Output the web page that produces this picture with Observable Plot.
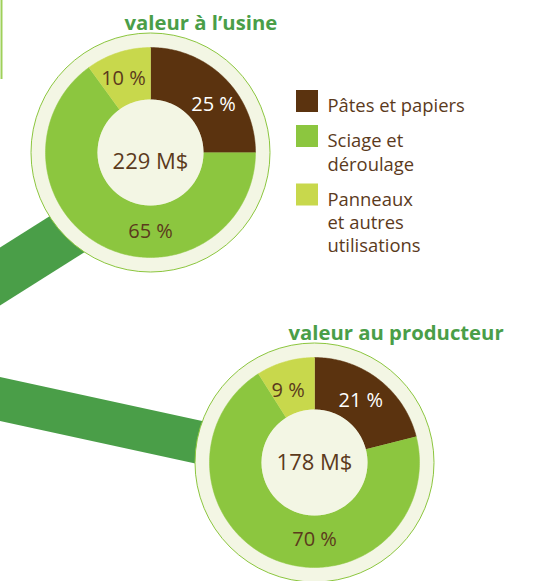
<!DOCTYPE html>
<html>
<head>
<meta charset="utf-8">
<script src="https://cdn.jsdelivr.net/npm/d3@7"></script>
<script src="https://cdn.jsdelivr.net/npm/@observablehq/plot@0.6"></script>
<style>
  html, body { margin: 0; padding: 0; background: #ffffff; overflow: hidden; }
  #chart svg { display: block; overflow: hidden; }
</style>
</head>
<body>
<div id="chart"></div>
<script>
// ---------- data ----------
const categories = ["Pâtes et papiers", "Sciage et déroulage", "Panneaux et autres utilisations"];
const legendLabels = ["Pâtes et papiers", "Sciage et\ndéroulage", "Panneaux\net autres\nutilisations"];
const titles = ["valeur à l’usine", "valeur au producteur"];
const totals = ["229 M$", "178 M$"];
const shareUsine = [25, 65, 10];        // %
const shareProducteur = [21, 70, 9];    // %

// ---------- layout & styles ----------
const W = 538, H = 581;
const colors = ["#5b330f", "#8cc63f", "#c8d84c"];
const labelColors = ["#ffffff", "#5b3a1c", "#5b3a1c"];
const darkGreen = "#4a9e48";
const cream = "#f3f6e4";
const textBrown = "#5b3a1c";
const layout = {
  centers: [[150, 152], [314, 462]],
  ringR: 119.5, outerR: 105, innerR: 53,
  labelR: [79, 77],
  labelAngles: [[53, 180, -20], [37, 180, -20]],
  totalDy: [9, 0],
  titleOffset: [-26, -123],
  bands: [
    {from: [-40, 301], to: [120, 200], width: 49},
    {from: [-40, 390], to: [250, 453], width: 43}
  ],
  legend: {x: 296, y: 90, size: 22, lineH: 23.5, gap: 11.5, textX: 327, textLineH: 23.2, textDy: 5.5, fontSize: 18.4}
};

const series = [shareUsine, shareProducteur];
const rad = d => d * Math.PI / 180;

// arc polygons built from the shares
const arcMarks = [];
series.forEach((vals, ci) => {
  const [cx, cy] = layout.centers[ci];
  let start = 0;
  vals.forEach((v, k) => {
    const a0 = start, a1 = start + v / 100 * 360;
    start = a1;
    const pts = [];
    const n = Math.max(2, Math.ceil(a1 - a0));
    for (let i = 0; i <= n; i++) {
      const a = rad(a0 + (a1 - a0) * i / n);
      pts.push({x: cx + layout.outerR * Math.sin(a), y: cy - layout.outerR * Math.cos(a)});
    }
    for (let i = n; i >= 0; i--) {
      const a = rad(a0 + (a1 - a0) * i / n);
      pts.push({x: cx + layout.innerR * Math.sin(a), y: cy - layout.innerR * Math.cos(a)});
    }
    arcMarks.push(Plot.line(pts, {x: "x", y: "y", fill: colors[k], stroke: colors[k], strokeWidth: 0.5}));
  });
});

// slice labels
const sliceLabels = [];
series.forEach((vals, ci) => {
  const [cx, cy] = layout.centers[ci];
  vals.forEach((v, k) => {
    const a = rad(layout.labelAngles[ci][k]);
    const r = layout.labelR[ci];
    sliceLabels.push({x: cx + r * Math.sin(a), y: cy - r * Math.cos(a), text: `${v} %`, color: labelColors[k]});
  });
});

const circleData = layout.centers.map(([x, y], i) => ({x, y, total: totals[i], title: titles[i], dy: layout.totalDy[i]}));

const bandData = layout.bands.map(b => ({x1: b.from[0], y1: b.from[1], x2: b.to[0], y2: b.to[1], w: b.width}));

// legend rows
const L = layout.legend;
const legendRows = [];
let ly = L.y;
legendLabels.forEach((lab, i) => {
  legendRows.push({x1: L.x, x2: L.x + L.size, y1: ly, y2: ly + L.size, label: lab, color: colors[i], name: categories[i]});
  ly += lab.split("\n").length * L.lineH + L.gap;
});

const plot = Plot.plot({
  width: W, height: H,
  margin: 0,
  style: {fontFamily: "'Open Sans', sans-serif", background: "#ffffff"},
  x: {domain: [0, W], range: [0, W], axis: null},
  y: {domain: [0, H], range: [0, H], axis: null},
  marks: [
    // thin frame edge at top left
    Plot.ruleX([1], {y1: 0, y2: 79, stroke: "#9fd05a", strokeWidth: 2}),
    // connecting bands
    ...bandData.map(b => Plot.link([b], {x1: "x1", y1: "y1", x2: "x2", y2: "y2", stroke: darkGreen, strokeWidth: b.w, strokeLinecap: "butt"})),
    // outer rings
    Plot.dot(circleData, {x: "x", y: "y", r: layout.ringR, fill: cream, stroke: "#8cc63f", strokeWidth: 1}),
    // donut slices
    ...arcMarks,
    // inner holes
    Plot.dot(circleData, {x: "x", y: "y", r: layout.innerR, fill: cream, stroke: "none"}),
    // totals
    ...circleData.map(c => Plot.text([c], {x: "x", y: "y", text: "total", dy: c.dy, fontSize: 22, fill: textBrown})),
    // slice labels
    Plot.text(sliceLabels, {x: "x", y: "y", text: "text", fill: "color", fontSize: 20}),
    // titles
    Plot.text(circleData.map((c, i) => ({...c, tx: c.x + layout.titleOffset[0], ty: c.y + layout.titleOffset[1]})),
      {x: "tx", y: "ty", text: "title", textAnchor: "start", lineAnchor: "bottom", fontSize: 20.3, fontWeight: "bold", fill: darkGreen}),
    // legend
    Plot.rect(legendRows, {x1: "x1", x2: "x2", y1: "y1", y2: "y2", fill: "color"}),
    Plot.text(legendRows, {x: () => L.textX, y: d => d.y1 + L.textDy, text: "label", textAnchor: "start", lineAnchor: "top", lineHeight: L.textLineH / L.fontSize, fontSize: L.fontSize, fill: textBrown})
  ]
});
document.getElementById("chart").appendChild(plot);
</script>
</body>
</html>
